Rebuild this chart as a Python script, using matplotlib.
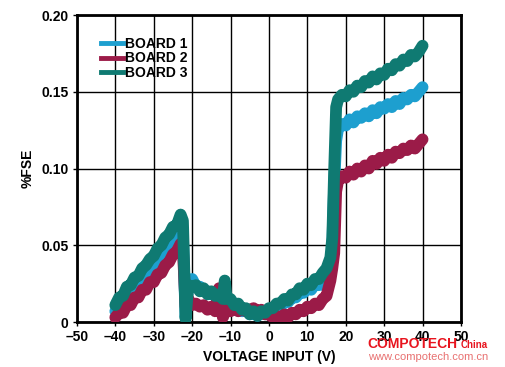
import matplotlib
matplotlib.use("Agg")
import matplotlib.pyplot as plt
from matplotlib.lines import Line2D

plt.rcParams['font.family'] = ['Liberation Sans', 'DejaVu Sans']

volts = [-40, -39, -38, -37, -36, -35, -34, -33, -32, -31, -30, -29, -28, -27, -26, -25, -24, -23,
         -22.4, -21.7, -21, -20, -19, -18, -17, -16, -15, -14, -13, -12, -11.5, -11, -10, -9, -8, -7,
         -6, -5, -4, -3, -2, -1, 0, 1, 2, 3, 4, 5, 6, 7, 8, 9, 10, 11, 12, 13, 14, 15, 16, 16.5, 17,
         17.5, 18, 19, 20, 21, 22, 23, 24, 25, 26, 27, 28, 29, 30, 31, 32, 33, 34, 35, 36, 37, 38, 39, 40]

board1 = [0.007, 0.011, 0.012, 0.017, 0.018, 0.023, 0.024, 0.029, 0.030, 0.035, 0.036, 0.041, 0.042, 0.047,
          0.049, 0.054, 0.055, 0.060, 0.056, 0.003, 0.026, 0.028, 0.023, 0.023, 0.020, 0.020, 0.018, 0.018,
          0.015, 0.016, 0.017, 0.013, 0.014, 0.010, 0.011, 0.007, 0.008, 0.005, 0.006, 0.004, 0.006, 0.005,
          0.008, 0.007, 0.011, 0.010, 0.013, 0.013, 0.016, 0.016, 0.019, 0.019, 0.022, 0.021, 0.025, 0.024,
          0.025, 0.023, 0.035, 0.050, 0.090, 0.118, 0.126, 0.129, 0.128, 0.132, 0.130, 0.134, 0.133, 0.136,
          0.134, 0.138, 0.136, 0.140, 0.139, 0.142, 0.140, 0.144, 0.142, 0.146, 0.145, 0.148, 0.147, 0.150, 0.153]

board2 = [0.003, 0.006, 0.006, 0.011, 0.011, 0.016, 0.016, 0.021, 0.021, 0.026, 0.026, 0.031, 0.032, 0.037,
          0.039, 0.044, 0.046, 0.051, 0.047, 0.010, 0.015, 0.011, 0.012, 0.010, 0.011, 0.008, 0.010, 0.007,
          0.022, 0.003, 0.006, 0.008, 0.007, 0.009, 0.007, 0.009, 0.007, 0.008, 0.009, 0.007, 0.008, 0.005,
          0.005, 0.003, 0.004, 0.002, 0.005, 0.003, 0.006, 0.005, 0.008, 0.007, 0.010, 0.009, 0.012, 0.011,
          0.015, 0.017, 0.027, 0.035, 0.045, 0.085, 0.092, 0.095, 0.094, 0.098, 0.096, 0.100, 0.098, 0.102,
          0.100, 0.105, 0.103, 0.107, 0.105, 0.109, 0.107, 0.111, 0.110, 0.113, 0.112, 0.115, 0.113, 0.116, 0.119]

board3 = [0.011, 0.016, 0.017, 0.023, 0.024, 0.029, 0.030, 0.035, 0.037, 0.041, 0.043, 0.048, 0.050, 0.055,
          0.057, 0.062, 0.063, 0.070, 0.066, 0.002, 0.024, 0.023, 0.024, 0.020, 0.022, 0.018, 0.020, 0.017,
          0.018, 0.015, 0.027, 0.015, 0.015, 0.011, 0.012, 0.008, 0.009, 0.005, 0.007, 0.004, 0.007, 0.006,
          0.009, 0.009, 0.012, 0.012, 0.015, 0.014, 0.018, 0.018, 0.022, 0.021, 0.025, 0.024, 0.028, 0.028,
          0.032, 0.035, 0.042, 0.055, 0.100, 0.140, 0.145, 0.148, 0.147, 0.151, 0.150, 0.154, 0.153, 0.157,
          0.156, 0.160, 0.158, 0.162, 0.161, 0.165, 0.164, 0.168, 0.167, 0.171, 0.170, 0.174, 0.173, 0.176, 0.180]

labels = ['BOARD 1', 'BOARD 2', 'BOARD 3']
colors = ['#1d9fcf', '#9b1b48', '#0f7a72']
x_ticks = [-50, -40, -30, -20, -10, 0, 10, 20, 30, 40, 50]
y_ticks = [0, 0.05, 0.10, 0.15, 0.20]
y_tick_labels = ['0', '0.05', '0.10', '0.15', '0.20']

fig = plt.figure(figsize=(5.06, 3.67), dpi=100)
ax = fig.add_axes([0.152, 0.1226, 0.759, 0.8365])

for vals, col in zip([board1, board2, board3], colors):
    ax.plot(volts, vals, color=col, lw=8.5, solid_capstyle='round', solid_joinstyle='round', zorder=3)

ax.set_xlim(-50, 50)
ax.set_ylim(0, 0.20)
ax.set_xticks(x_ticks)
ax.set_xticklabels([str(t).replace('-', '\u2013') for t in x_ticks])
ax.set_yticks(y_ticks)
ax.set_yticklabels(y_tick_labels)
ax.grid(True, color='black', lw=1.0)
ax.set_axisbelow(True)
for sp in ax.spines.values():
    sp.set_linewidth(2)
ax.tick_params(labelsize=10, width=1, length=3, pad=3)
for lab in ax.get_xticklabels() + ax.get_yticklabels():
    lab.set_fontweight('bold')

ax.set_xlabel('VOLTAGE INPUT (V)', fontsize=10, fontweight='bold', labelpad=4)
ax.set_ylabel('%FSE', fontsize=10, fontweight='bold', labelpad=5)

handles = [Line2D([], [], color=c, lw=3.5) for c in colors]
ax.legend(handles, labels, loc='upper left', bbox_to_anchor=(0.03, 0.97), frameon=False,
          handlelength=1.6, handletextpad=0.1, labelspacing=0.05,
          prop={'weight': 'bold', 'size': 10})

# watermark
fig.text(367 / 506, 1 - 348 / 367, 'COMPOTECH', color='#e8141e', fontsize=10, fontweight='bold',
         va='baseline', ha='left')
fig.text(461 / 506, 1 - 348 / 367, 'China', color='#e8141e', fontsize=7, fontweight='bold',
         va='baseline', ha='left')
fig.text(368 / 506, 1 - 360 / 367, 'www.compotech.com.cn', color='#e87070', fontsize=8,
         va='baseline', ha='left')

fig.savefig('out.png', dpi=100)
